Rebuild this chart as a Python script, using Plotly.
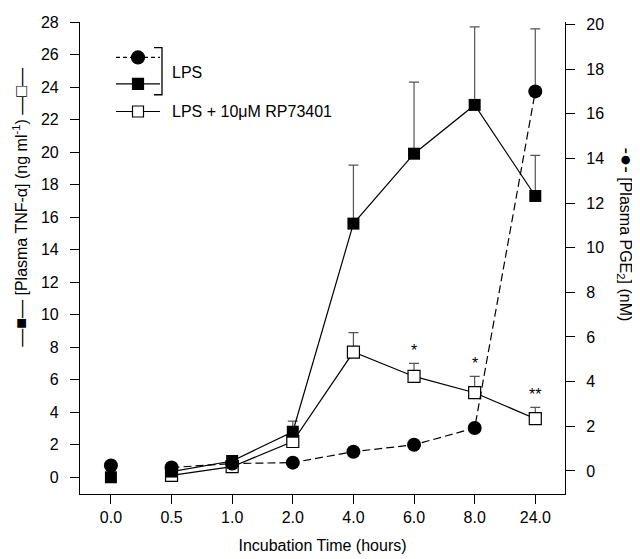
import plotly.graph_objects as go

# ---------------- data ----------------
x_labels = ["0.0", "0.5", "1.0", "2.0", "4.0", "6.0", "8.0", "24.0"]
x_idx = list(range(len(x_labels)))

# LPS: plasma TNF-alpha (ng/ml), filled squares (left axis)
tnf_lps = [0.0, 0.35, 1.0, 2.8, 15.6, 19.9, 22.9, 17.3]
tnf_lps_err = [0, 0, 0, 0.65, 3.6, 4.4, 4.8, 2.5]

# LPS + 10uM RP73401: plasma TNF-alpha (ng/ml), open squares (left axis)
tnf_rp_x = x_idx[1:]
tnf_rp = [0.12, 0.65, 2.2, 7.7, 6.2, 5.2, 3.6]
tnf_rp_err = [0, 0, 0.4, 1.2, 0.8, 1.0, 0.7]
signif = ["", "", "", "", "*", "*", "**"]

# LPS: plasma PGE2 (nM), filled circles (right axis)
pge2_lps = [0.24, 0.15, 0.33, 0.37, 0.86, 1.17, 1.92, 17.0]
pge2_lps_err = [0, 0, 0, 0, 0, 0, 0, 2.8]

y_left_ticks = list(range(0, 29, 2))
y_right_ticks = list(range(0, 21, 2))

FONT = "Liberation Sans, Arial, Helvetica, sans-serif"
ERR_COL = "#555555"

fig = go.Figure()

def err(arr):
    return dict(type="data", symmetric=False, array=arr, arrayminus=[0] * len(arr),
                color=ERR_COL, thickness=1.2, width=5)

# open squares (LPS + RP73401)
fig.add_trace(go.Scatter(
    x=tnf_rp_x, y=tnf_rp, mode="lines+markers", yaxis="y",
    line=dict(color="black", width=1.2),
    marker=dict(symbol="square", size=12, color="white", line=dict(color="black", width=1.2)),
    error_y=err(tnf_rp_err), showlegend=False))

# filled squares (LPS) - isolated first point, then connected series
fig.add_trace(go.Scatter(
    x=x_idx[:1], y=tnf_lps[:1], mode="markers", yaxis="y",
    marker=dict(symbol="square", size=12, color="black"), showlegend=False))
fig.add_trace(go.Scatter(
    x=x_idx[1:], y=tnf_lps[1:], mode="lines+markers", yaxis="y",
    line=dict(color="black", width=1.2),
    marker=dict(symbol="square", size=12, color="black"),
    error_y=err(tnf_lps_err[1:]), showlegend=False))

# filled circles (PGE2, right axis)
fig.add_trace(go.Scatter(
    x=x_idx[:1], y=pge2_lps[:1], mode="markers", yaxis="y2",
    marker=dict(symbol="circle", size=14, color="black"), showlegend=False))
fig.add_trace(go.Scatter(
    x=x_idx[1:], y=pge2_lps[1:], mode="lines+markers", yaxis="y2",
    line=dict(color="black", width=1.2, dash="8px,4px"),
    marker=dict(symbol="circle", size=14, color="black"),
    error_y=err(pge2_lps_err[1:]), showlegend=False))

annotations = []
# significance asterisks above the RP73401 error bars
for xi, yv, e, s in zip(tnf_rp_x, tnf_rp, tnf_rp_err, signif):
    if s:
        annotations.append(dict(x=xi, y=yv + e, xref="x", yref="y", text=s, showarrow=False,
                                yshift=13, font=dict(family=FONT, size=16, color="black")))

# ---------------- hand-made legend ----------------
L, R, T, B = 72, 557, 6, 486
W, H = R - L, B - T
px = lambda v: (v - L) / W
py = lambda v: (B - v) / H

shapes = []
rows = [(42, "circle", "black", "dash"), (69, "square", "black", "solid"), (97, "square", "white", "solid")]
for yy, sym, fill, dash in rows:
    shapes.append(dict(type="line", xref="paper", yref="paper", x0=px(108), x1=px(152), y0=py(yy), y1=py(yy),
                       line=dict(color="black", width=1.2, dash="4px,3px" if dash == "dash" else "solid")))
    half = 6.5 if sym == "circle" else 5.5
    shapes.append(dict(type="circle" if sym == "circle" else "rect", xref="paper", yref="paper",
                       xsizemode="pixel", ysizemode="pixel", xanchor=px(130), yanchor=py(yy),
                       x0=-half, x1=half, y0=-half, y1=half,
                       fillcolor=fill, line=dict(color="black", width=1.2)))
# bracket for LPS
shapes.append(dict(type="path", xref="paper", yref="paper",
                   path="M {a},{b} L {c},{b} L {c},{d} L {a},{d}".format(
                       a=px(146), c=px(154), b=py(32), d=py(80)),
                   line=dict(color="black", width=1.3)))
annotations.append(dict(x=px(162), y=py(57), xref="paper", yref="paper", text="LPS", showarrow=False,
                        xanchor="left", yanchor="middle", font=dict(family=FONT, size=16, color="black")))
annotations.append(dict(x=px(162), y=py(97), xref="paper", yref="paper", text="LPS + 10μM RP73401",
                        showarrow=False, xanchor="left", yanchor="middle",
                        font=dict(family=FONT, size=16, color="black")))

# axis titles
annotations.append(dict(x=px(13), y=py(195), xref="paper", yref="paper",
                        text=("<span style='font-size:18px'>—■—</span> [Plasma TNF-α] (ng ml<sup>-1</sup>) "
                              "<span style='font-size:18px'>—□—</span>"),
                        textangle=-90,
                        showarrow=False, xanchor="center", yanchor="middle",
                        font=dict(family=FONT, size=16, color="black")))
annotations.append(dict(x=px(619), y=py(222), xref="paper", yref="paper",
                        text="<span style='font-size:20px'>-●-</span> [Plasma PGE<sub>2</sub>] (nM)",
                        textangle=90,
                        showarrow=False, xanchor="center", yanchor="middle",
                        font=dict(family=FONT, size=16, color="black")))

axis_common = dict(showline=True, linecolor="black", linewidth=1.2, ticks="outside", ticklen=9,
                   tickwidth=1.2, tickcolor="black", showgrid=False, zeroline=False,
                   tickfont=dict(family=FONT, size=16, color="black"))

fig.update_layout(
    width=640, height=559,
    margin=dict(l=L, r=640 - R, t=T, b=559 - B),
    paper_bgcolor="white", plot_bgcolor="white",
    font=dict(family=FONT, size=16, color="black"),
    xaxis=dict(range=[-0.51, 7.49], tickvals=x_idx, ticktext=x_labels,
               title=dict(text="Incubation Time (hours)", standoff=14,
                          font=dict(family=FONT, size=16, color="black")),
               **axis_common),
    yaxis=dict(range=[-1.03, 28], tickvals=y_left_ticks, ticklabelstandoff=8, **axis_common),
    yaxis2=dict(range=[-1.035, 20.11], tickvals=y_right_ticks, overlaying="y", side="right",
                ticklabelstandoff=8, **axis_common),
    shapes=shapes, annotations=annotations,
)

fig.write_html("out.html")
